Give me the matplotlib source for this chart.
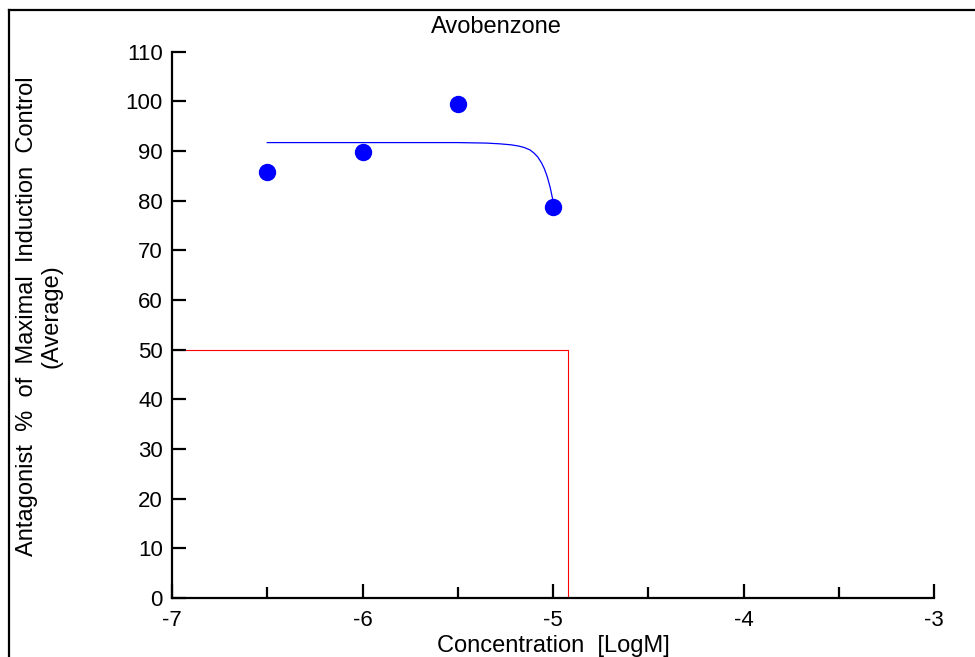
import matplotlib
matplotlib.use("Agg")
import matplotlib.pyplot as plt
from matplotlib.lines import Line2D

plt.rcParams['font.family'] = ['Liberation Sans', 'DejaVu Sans']

# measured responses (log concentration, % of maximal induction)
log_conc = [-6.5, -6.0, -5.5, -5.0]
response = [85.8, 89.9, 99.4, 78.7]

# fitted curve
fit_x = [-6.5, -5.5, -5.35, -5.28, -5.22, -5.18, -5.15, -5.12, -5.10, -5.08,
         -5.06, -5.045, -5.03, -5.015, -5.0]
fit_y = [91.7, 91.7, 91.6, 91.45, 91.25, 91.0, 90.7, 90.2, 89.6, 88.8,
         87.6, 86.4, 84.8, 82.7, 80.0]

# 50% marker line and the concentration where it meets the curve
half_level = 50
ec50 = -4.92

x_ticks = [-7, -6, -5, -4, -3]
x_minor = [-6.5, -5.5, -4.5, -3.5]
y_ticks = list(range(0, 111, 10))

fig = plt.figure(figsize=(9.75, 6.57), dpi=100)
ax = fig.add_axes([172 / 975, 1 - 598 / 657, (934 - 172) / 975, (598 - 51.7) / 657])

ax.plot([-7, ec50, ec50], [half_level, half_level, 0], color='red', lw=0.8, zorder=1)
ax.plot(fit_x, fit_y, color='blue', lw=0.9, zorder=2)
ax.plot(log_conc, response, 'o', color='blue', markersize=11.5, zorder=3, clip_on=False)

ax.set_xlim(-7, -3)
ax.set_ylim(0, 110)
ax.set_xticks(x_ticks)
ax.set_xticks(x_minor, minor=True)
ax.set_yticks(y_ticks)
ax.set_xticklabels([str(t) for t in x_ticks])
ax.set_yticklabels([str(t) for t in y_ticks])

for s in ['top', 'right']:
    ax.spines[s].set_visible(False)
for s in ['left', 'bottom']:
    ax.spines[s].set_linewidth(1.6)

ax.tick_params(axis='y', direction='in', length=10, width=1.6, pad=6.5, labelsize=16)
ax.tick_params(axis='x', which='major', direction='in', length=10, width=1.6, pad=9, labelsize=16)
ax.tick_params(axis='x', which='minor', direction='in', length=7.7, width=1.6)

fig.text(496.5 / 975, 1 - 33 / 657, 'Avobenzone', ha='center', va='baseline', fontsize=17)
fig.text(553 / 975, 1 - 652 / 657, 'Concentration  [LogM]', ha='center', va='baseline', fontsize=17)
fig.text(39 / 975, 1 - 316 / 657,
         'Antagonist  %  of  Maximal  Induction  Control\n(Average)',
         ha='center', va='center', rotation=90, multialignment='center',
         fontsize=17, linespacing=1.15)

# frame lines at top and left of the image
fig.add_artist(Line2D([8.5 / 975, 8.5 / 975], [0, 1 - 10 / 657], color='black', lw=1.6))
fig.add_artist(Line2D([8.5 / 975, 1], [1 - 10 / 657, 1 - 10 / 657], color='black', lw=1.6))

fig.savefig('out.png', dpi=100)
